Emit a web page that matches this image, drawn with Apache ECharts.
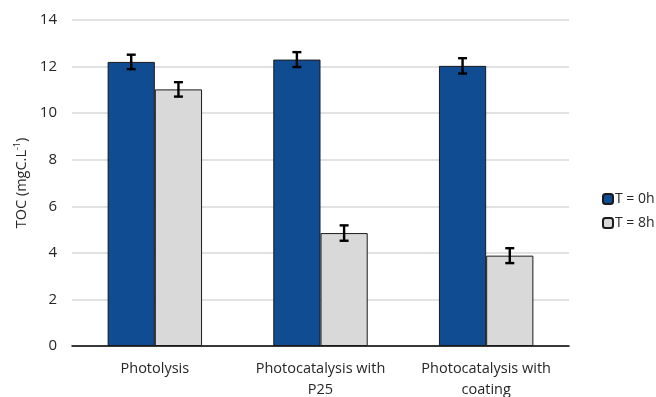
<!DOCTYPE html>
<html>
<head>
<meta charset="utf-8">
<script src="https://cdn.jsdelivr.net/npm/echarts@6/dist/echarts.min.js"></script>
<style>
  html, body { margin: 0; padding: 0; background: #fff; }
  #chart { width: 656px; height: 397px; }
</style>
</head>
<body>
<div id="chart"></div>
<script>
// TOC before and after 8 h of treatment
const categories = ['Photolysis', 'Photocatalysis with\nP25', 'Photocatalysis with\ncoating'];
const seriesNames = ['T = 0h', 'T = 8h'];
const toc0h = [12.2, 12.3, 12.03];
const toc8h = [11.02, 4.85, 3.88];
const err0h = [0.31, 0.32, 0.33];
const err8h = [0.31, 0.33, 0.32];
const yTicks = [0, 2, 4, 6, 8, 10, 12, 14];

const FONT = '"Open Sans", "Liberation Sans", sans-serif';
const TEXT = '#262626';
const CAT_GAP = 0.43;   // fraction of the band left empty around each bar pair

function errorSeries(values, errs, side) {
  return {
    type: 'custom',
    name: 'err' + side,
    silent: true,
    z: 10,
    data: values.map((v, i) => [i, v, errs[i]]),
    renderItem: function (params, api) {
      const i = api.value(0), v = api.value(1), e = api.value(2);
      const band = api.size([1, 0])[0];
      const barW = band * (1 - CAT_GAP) / 2;
      const base = api.coord([i, v]);
      const x = base[0] + side * barW / 2;
      const yTop = api.coord([i, v + e])[1];
      const yBot = api.coord([i, v - e])[1];
      const cap = 4.5;
      const style = { stroke: '#000', lineWidth: 2.4 };
      return {
        type: 'group',
        children: [
          { type: 'line', shape: { x1: x, y1: yTop, x2: x, y2: yBot }, style },
          { type: 'line', shape: { x1: x - cap, y1: yTop, x2: x + cap, y2: yTop }, style },
          { type: 'line', shape: { x1: x - cap, y1: yBot, x2: x + cap, y2: yBot }, style }
        ]
      };
    }
  };
}

const chart = echarts.init(document.getElementById('chart'), null, { renderer: 'canvas' });
chart.setOption({
  animation: false,
  backgroundColor: '#fff',
  textStyle: { fontFamily: FONT },
  grid: { left: 72, right: 87, top: 20, bottom: 51, containLabel: false, outerBoundsMode: 'none' },
  legend: {
    orient: 'vertical',
    left: 597,
    top: 187,
    itemWidth: 10,
    itemHeight: 10,
    itemGap: 10,
    data: seriesNames,
    textStyle: { fontFamily: FONT, fontSize: 14, lineHeight: 14, color: TEXT, padding: [0, 0, 0, -3] }
  },
  xAxis: {
    type: 'category',
    data: categories,
    axisTick: { show: false },
    axisLine: { lineStyle: { color: '#000', width: 1.5 } },
    axisLabel: {
      fontFamily: FONT, fontSize: 14.5, color: TEXT,
      margin: 12, lineHeight: 21, interval: 0
    }
  },
  yAxis: {
    type: 'value',
    min: 0,
    max: 14,
    interval: 2,
    name: '{a|TOC (mgC.L}{s|-1}{a|)}',
    nameLocation: 'middle',
    nameGap: 42,
    nameRotate: 90,
    nameMoveOverlap: false,
    nameTextStyle: {
      rich: {
        a: { fontFamily: FONT, fontSize: 14.5, color: TEXT },
        s: { fontFamily: FONT, fontSize: 9, color: TEXT, verticalAlign: 'top', padding: [0, 0, 8, 0] }
      }
    },
    axisLine: { show: false },
    axisTick: { show: false },
    axisLabel: {
      fontFamily: FONT, fontSize: 15, color: TEXT, margin: 15,
      formatter: v => (yTicks.includes(v) ? String(v) : '')
    },
    splitLine: { lineStyle: { color: '#d9d9d9', width: 1.5 } }
  },
  series: [
    {
      name: seriesNames[0],
      type: 'bar',
      data: toc0h,
      barGap: 0,
      barCategoryGap: (CAT_GAP * 100) + '%',
      itemStyle: { color: '#0F4C92', borderColor: '#1a1a1a', borderWidth: 1 }
    },
    {
      name: seriesNames[1],
      type: 'bar',
      data: toc8h,
      barGap: 0,
      barCategoryGap: (CAT_GAP * 100) + '%',
      itemStyle: { color: '#D9D9D9', borderColor: '#1a1a1a', borderWidth: 1 }
    },
    errorSeries(toc0h, err0h, -1),
    errorSeries(toc8h, err8h, 1)
  ]
});
</script>
</body>
</html>
